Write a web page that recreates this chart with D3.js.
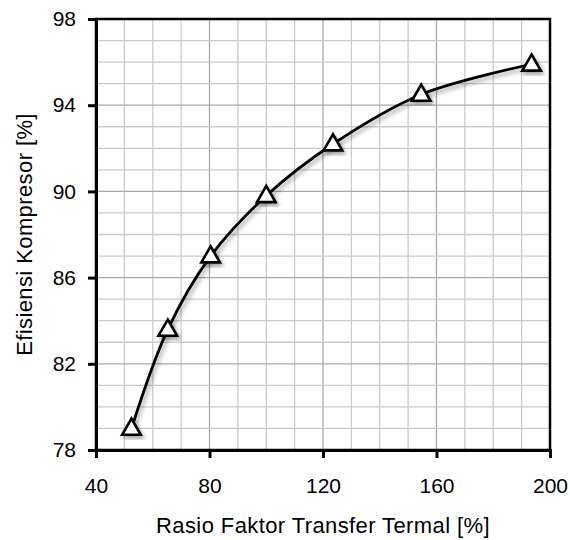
<!DOCTYPE html>
<html>
<head>
<meta charset="utf-8">
<script src="https://cdn.jsdelivr.net/npm/d3@7"></script>
<style>
  body { margin: 0; background: #fff; }
  text { font-family: "Liberation Sans", Arial, sans-serif; fill: #000; }
</style>
</head>
<body>
<div id="chart"></div>
<script>
var rasio = [52.5, 65.3, 80.4, 100, 123.5, 154.6, 193.5];
var efisiensi = [79.0, 83.6, 87.0, 89.8, 92.2, 94.5, 95.9];
var xTicks = [40, 80, 120, 160, 200];
var yTicks = [78, 82, 86, 90, 94, 98];

var W = 570, H = 540;
var m = { left: 96, right: 18, top: 19, bottom: 90 };

var svg = d3.select('#chart').append('svg')
  .attr('width', W).attr('height', H);

var defs = svg.append('defs');
var f = defs.append('filter').attr('id', 'shadow')
  .attr('x', '-30%').attr('y', '-30%').attr('width', '160%').attr('height', '160%');
f.append('feDropShadow').attr('dx', 2).attr('dy', 3).attr('stdDeviation', 2)
  .attr('flood-color', '#000').attr('flood-opacity', 0.35);

var x = d3.scaleLinear().domain([40, 200]).range([m.left, W - m.right - 2]);
var y = d3.scaleLinear().domain([78, 98]).range([H - m.bottom, m.top]);

var g = svg.append('g');

// minor + major grid
g.selectAll('line.vg').data(d3.range(50, 200, 10)).enter().append('line')
  .attr('x1', d => x(d)).attr('x2', d => x(d))
  .attr('y1', y(78)).attr('y2', y(98))
  .attr('stroke', d => d % 40 === 0 ? '#a9a9a9' : '#cbcbcb').attr('stroke-width', 1.3);
g.selectAll('line.hg').data(d3.range(79, 98, 1)).enter().append('line')
  .attr('y1', d => y(d)).attr('y2', d => y(d))
  .attr('x1', x(40)).attr('x2', x(200))
  .attr('stroke', d => (d - 78) % 4 === 0 ? '#a9a9a9' : '#cbcbcb').attr('stroke-width', 1.3);

// frame
g.append('rect')
  .attr('x', x(40)).attr('y', y(98))
  .attr('width', x(200) - x(40)).attr('height', y(78) - y(98))
  .attr('fill', 'none').attr('stroke', '#000').attr('stroke-width', 2.5);

// axes
var xAxis = d3.axisBottom(x).tickValues(xTicks).tickSize(8).tickPadding(20);
var yAxis = d3.axisLeft(y).tickValues(yTicks).tickSize(8).tickPadding(12);

var gx = svg.append('g').attr('transform', 'translate(0,' + y(78) + ')').call(xAxis);
var gy = svg.append('g').attr('transform', 'translate(' + x(40) + ',0)').call(yAxis);
[gx, gy].forEach(function(a) {
  a.select('.domain').attr('stroke', '#000').attr('stroke-width', 3);
  a.selectAll('.tick line').attr('stroke', '#000').attr('stroke-width', 3);
  a.selectAll('.tick text').style('font-size', '21px').attr('fill', '#000')
    .style('font-family', '"Liberation Sans", Arial, sans-serif');
});

// curve
var line = d3.line()
  .x(function(d, i) { return x(rasio[i]); })
  .y(function(d) { return y(d); })
  .curve(d3.curveCatmullRom.alpha(0.5));

svg.append('path').datum(efisiensi)
  .attr('d', line)
  .attr('fill', 'none').attr('stroke', '#000').attr('stroke-width', 2.8)
  .attr('filter', 'url(#shadow)');

// triangle markers
var tri = d3.symbol().type(d3.symbolTriangle).size(150);
svg.selectAll('path.mk').data(efisiensi).enter().append('path')
  .attr('class', 'mk')
  .attr('d', tri)
  .attr('transform', function(d, i) { return 'translate(' + x(rasio[i]) + ',' + (y(d) + 1) + ')'; })
  .attr('fill', '#fff').attr('stroke', '#000').attr('stroke-width', 2.6)
  .attr('filter', 'url(#shadow)');

// titles
svg.append('text')
  .attr('x', (x(40) + x(200)) / 2).attr('y', 533)
  .attr('text-anchor', 'middle').style('font-size', '22px').style('letter-spacing', '0.4px')
  .text('Rasio Faktor Transfer Termal [%]');

svg.append('text')
  .attr('transform', 'translate(32,' + (y(78) + y(98)) / 2 + ') rotate(-90)')
  .attr('text-anchor', 'middle').style('font-size', '22px').style('letter-spacing', '0.4px')
  .text('Efisiensi Kompresor [%]');
</script>
</body>
</html>
